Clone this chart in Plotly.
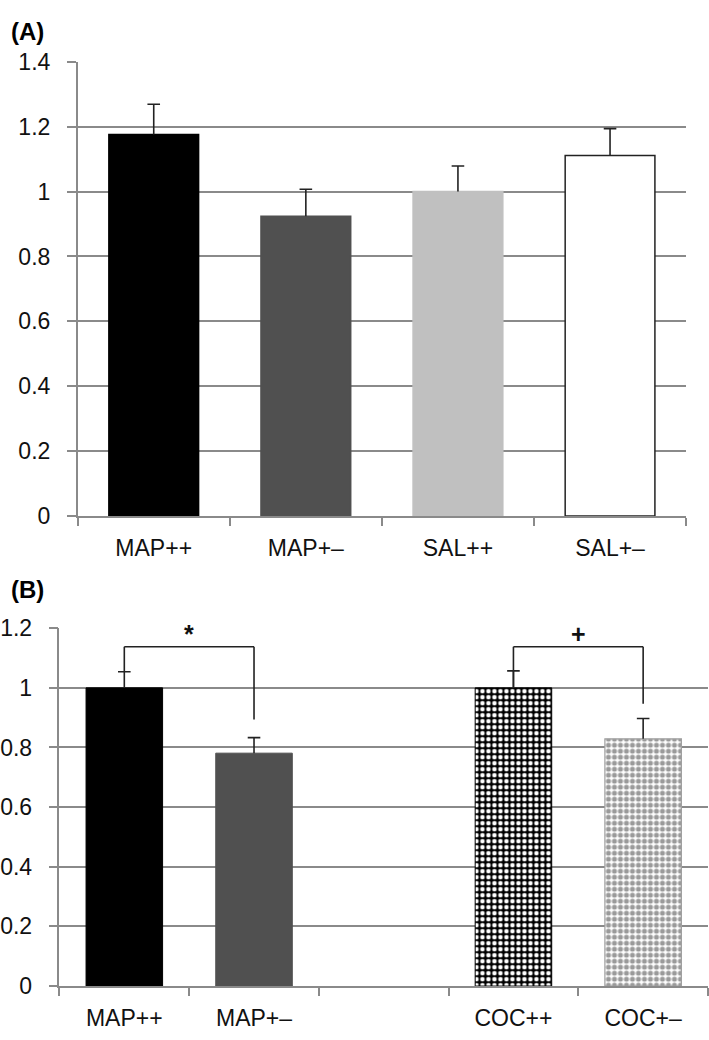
import plotly.graph_objects as go

# ---------- data ----------
cats_a = ["MAP++", "MAP+\u2013", "SAL++", "SAL+\u2013"]
vals_a = [1.176, 0.924, 1.0, 1.111]
errs_a = [0.093, 0.083, 0.079, 0.083]
colors_a = ["#000000", "#505050", "#c0c0c0", "#ffffff"]
lines_a = ["#000000", "#505050", "#c0c0c0", "#222222"]

cats_b = ["MAP++", "MAP+\u2013", " ", "COC++", "COC+\u2013"]
vals_b = [1.0, 0.781, None, 1.0, 0.829]
errs_b = [0.054, 0.052, None, 0.057, 0.068]

yticks_a = [0, 0.2, 0.4, 0.6, 0.8, 1, 1.2, 1.4]
ytick_text_a = ["0", "0.2", "0.4", "0.6", "0.8", "1", "1.2", "1.4"]
yticks_b = [0, 0.2, 0.4, 0.6, 0.8, 1, 1.2]
ytick_text_b = ["0", "0.2", "0.4", "0.6", "0.8", "1", "1.2"]

# significance brackets: (left idx, right idx, bar level, left end, right end, symbol)
brackets = [
    (0, 1, 1.138, 1.054, 0.894, "*"),
    (3, 4, 1.138, 1.0, 0.947, "+"),
]

FONT = "Liberation Sans, Arial, Helvetica, sans-serif"
GRID = "#8a8a8a"
ERRC = "#222222"

fig = go.Figure()


def add_errors(cats, vals, errs, xa, ya):
    xs, ys, cx, cy = [], [], [], []
    for c, v, e in zip(cats, vals, errs):
        if v is None or e is None:
            continue
        xs += [c, c, None]
        ys += [v, v + e, None]
        cx.append(c)
        cy.append(v + e)
    fig.add_trace(go.Scatter(x=xs, y=ys, mode="lines", xaxis=xa, yaxis=ya,
                             line=dict(color=ERRC, width=1.6), showlegend=False,
                             hoverinfo="skip"))
    fig.add_trace(go.Scatter(x=cx, y=cy, mode="markers", xaxis=xa, yaxis=ya,
                             marker=dict(symbol="line-ew-open", size=9, color=ERRC,
                                         line=dict(color=ERRC, width=1.6)),
                             showlegend=False, hoverinfo="skip"))


# ---------- panel A ----------
fig.add_trace(go.Bar(
    x=cats_a, y=vals_a, xaxis="x", yaxis="y",
    marker=dict(color=colors_a, line=dict(color=lines_a, width=1.5)),
    showlegend=False,
))
add_errors(cats_a, vals_a, errs_a, "x", "y")

# ---------- panel B ----------
styles_b = [
    dict(color="#000000", line=dict(color="#000000", width=1)),
    dict(color="#505050", line=dict(color="#505050", width=1)),
    dict(color="#ffffff", line=dict(width=0)),
    dict(color="#000000", line=dict(color="#000000", width=1),
         pattern=dict(shape=".", fgcolor="#ffffff", bgcolor="#000000", size=6, solidity=0.45, fillmode="replace")),
    dict(color="#ffffff", line=dict(color="#a0a0a0", width=1.2),
         pattern=dict(shape=".", fgcolor="#9a9a9a", bgcolor="#ffffff", size=6, solidity=0.55, fillmode="replace")),
]
for c, v, st in zip(cats_b, vals_b, styles_b):
    fig.add_trace(go.Bar(
        x=[c], y=[v], xaxis="x2", yaxis="y2", marker=st, showlegend=False,
    ))
add_errors(cats_b, vals_b, errs_b, "x2", "y2")

# brackets
for li, ri, top, lend, rend, sym in brackets:
    for (x0, y0, x1, y1) in [(li, lend, li, top), (li, top, ri, top), (ri, top, ri, rend)]:
        fig.add_shape(type="line", xref="x2", yref="y2", x0=x0, y0=y0, x1=x1, y1=y1,
                      line=dict(color=ERRC, width=1.6))
    fig.add_annotation(xref="x2", yref="y2", x=(li + ri) / 2, y=top, yanchor="bottom",
                       text="<b>%s</b>" % sym, showarrow=False,
                       font=dict(family=FONT, size=25, color="#111111"), yshift=-3)

# panel labels
fig.add_annotation(xref="paper", yref="paper", x=6 / 709, y=1 - 19 / 1040, xanchor="left",
                   yanchor="middle", text="<b>(A)</b>", showarrow=False,
                   font=dict(family=FONT, size=24, color="#000000"))
fig.add_annotation(xref="paper", yref="paper", x=6 / 709, y=1 - 591 / 1040, xanchor="left",
                   yanchor="middle", text="<b>(B)</b>", showarrow=False,
                   font=dict(family=FONT, size=24, color="#000000"))

axis_common_x = dict(
    type="category", tickson="boundaries", ticks="outside", ticklen=8,
    tickcolor=GRID, tickwidth=1.5, showline=True, linecolor=GRID, linewidth=1.5,
    showgrid=False, tickfont=dict(family=FONT, size=23, color="#111111"),
    ticklabelstandoff=11, fixedrange=True,
)
axis_common_y = dict(
    ticks="outside", ticklen=9, tickcolor=GRID, tickwidth=1.5,
    showline=True, linecolor=GRID, linewidth=1.5, showgrid=True, gridcolor=GRID,
    gridwidth=1.5, zeroline=False, tickfont=dict(family=FONT, size=23, color="#111111"),
    ticklabelstandoff=12, fixedrange=True,
)

fig.update_layout(
    width=709, height=1040, margin=dict(l=0, r=0, t=0, b=0),
    paper_bgcolor="white", plot_bgcolor="white",
    barmode="overlay", bargap=0.41,
    xaxis=dict(axis_common_x, domain=[75 / 709, 686 / 709], anchor="y",
               categoryorder="array", categoryarray=cats_a, range=[-0.5, 3.5]),
    yaxis=dict(axis_common_y, domain=[(1040 - 516) / 1040, (1040 - 50) / 1040], anchor="x",
               range=[0, 1.4], tickvals=yticks_a, ticktext=ytick_text_a),
    xaxis2=dict(axis_common_x, domain=[56.7 / 709, 708 / 709], anchor="y2",
                categoryorder="array", categoryarray=cats_b, range=[-0.5, 4.5]),
    yaxis2=dict(axis_common_y, domain=[(1040 - 998) / 1040, (1040 - 631) / 1040], anchor="x2",
                range=[0, 1.2], tickvals=yticks_b, ticktext=ytick_text_b),
)

fig.write_html("out.html", config={"displayModeBar": False},
               post_script="document.body.style.margin='0';document.body.style.overflow='hidden';")
